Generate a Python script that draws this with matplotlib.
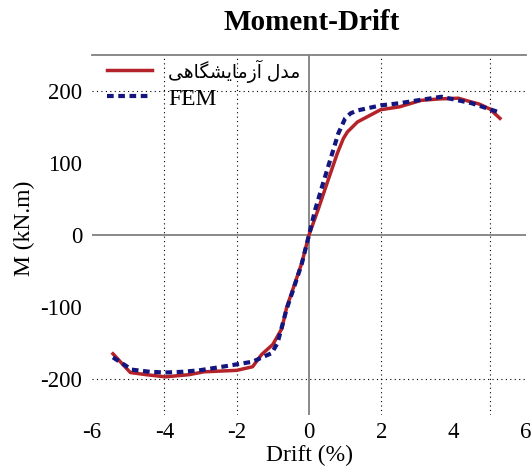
import matplotlib
matplotlib.use("Agg")
import matplotlib.pyplot as plt

plt.rcParams['font.family'] = ['Liberation Serif', 'DejaVu Sans']
plt.rcParams['axes.unicode_minus'] = False

exp_drift = [-5.42, -4.94, -4.5, -3.97, -3.32, -2.9, -2.0, -1.56, -1.31, -1.0, -0.75,
             -0.62, -0.45, -0.2, 0.0, 0.25, 0.5, 0.78, 0.95, 1.06, 1.34, 1.98, 2.5,
             3.1, 3.6, 4.13, 4.4, 4.7, 5.0, 5.28]
exp_moment = [-165, -191, -194, -197, -194, -190, -188, -183, -166, -152, -130,
              -101, -76, -39, 0, 35, 72, 113, 134, 143, 157, 174, 178,
              187, 189, 190, 186, 182, 175, 162]

# FEM (blue dashed)
fem_drift = [-5.42, -4.9, -4.4, -3.97, -3.5, -3.04, -2.4, -1.56, -1.03, -0.87, -0.62,
             -0.45, -0.2, 0.0, 0.17, 0.39, 0.64, 0.81, 1.0, 1.15, 1.34, 1.98, 2.5,
             3.0, 3.66, 4.13, 4.5, 4.86, 5.28]
fem_moment = [-170, -187, -190, -191, -190, -188, -183, -176, -164, -150, -103,
              -78, -40, 0, 35, 72, 113, 141, 162, 169, 173, 180, 183,
              187, 192, 187, 183, 177, 170]

x_ticks = [-6, -4, -2, 0, 2, 4, 6]
y_ticks = [-200, -100, 0, 100, 200]
vgrid = [-4, -2, 2, 5]
hgrid = [-200, 200]

# persian label "مدل آزمایشگاهی", shaped by hand (matplotlib does no arabic shaping)
exp_label = "\ufbfd\ufeeb\ufe8e\ufb95\ufeb8\ufbfe\ufe8e\ufee3\ufeaf\ufe81 \ufedd\ufeaa\ufee3"

fig = plt.figure(figsize=(5.32, 4.72), dpi=100)
ax = fig.add_axes([92/532, 1 - 415/472, (526 - 92)/532, (415 - 55)/472])

for g in vgrid:
    ax.axvline(g, color='black', linestyle=(0, (1, 3)), linewidth=0.8, zorder=1)
for g in hgrid:
    ax.axhline(g, color='black', linestyle=(0, (1, 3)), linewidth=0.8, zorder=1)
ax.axvline(0, color='#808080', linewidth=1.3, zorder=1)
ax.axhline(0, color='#808080', linewidth=1.3, zorder=1)

ax.plot(exp_drift, exp_moment, color='#b5232a', linewidth=2.5, label=exp_label, zorder=3)
ax.plot(fem_drift, fem_moment, color='#141680', linewidth=3, linestyle=(0, (1.6, 1.1)),
        label='FEM', zorder=4)

ax.set_xlim(-6, 6)
ax.set_ylim(-250, 250)
ax.set_xticks(x_ticks)
ax.set_yticks(y_ticks)
ax.tick_params(length=0, labelsize=16.5)
ax.tick_params(axis='x', pad=5)
ax.tick_params(axis='y', pad=7)
for s in ['left', 'right', 'bottom']:
    ax.spines[s].set_visible(False)
ax.spines['top'].set_color('#808080')
ax.spines['top'].set_linewidth(1.3)

ax.set_xlabel('Drift (%)', fontsize=17)
ax.set_ylabel('M (kN.m)', fontsize=17)
ax.xaxis.set_label_coords(0.5, -0.083)
ax.yaxis.set_label_coords(-0.131, 0.519)
fig.text(312/532, 1 - 22/472, 'Moment-Drift', fontsize=21, fontweight='bold',
         ha='center', va='center')

leg = ax.legend(loc='upper left', bbox_to_anchor=(0.035, 0.986), frameon=False, fontsize=17,
                handlelength=1.9, handletextpad=0.68, borderaxespad=0, borderpad=0,
                labelspacing=0.2)
leg.get_texts()[0].set_fontsize(13.5)

fig.savefig('out.png', dpi=100)
